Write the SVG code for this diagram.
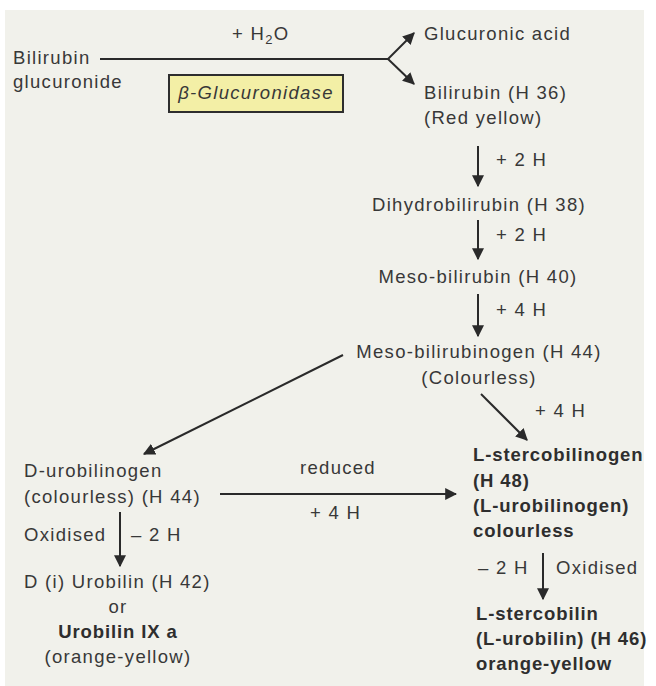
<svg xmlns="http://www.w3.org/2000/svg" width="656" height="686" viewBox="0 0 656 686">
<style>
text{font-family:"Liberation Sans",Arial,sans-serif;font-size:18.5px;fill:#383838;letter-spacing:1.3px}
.b{font-weight:bold;fill:#2e2e2e;letter-spacing:0.9px}
.m{text-anchor:middle}
.c line,.c path{stroke:#2a2a2a;stroke-width:2;fill:none}
</style>
<defs>
<marker id="ah" viewBox="0 0 10 10" refX="9" refY="5" markerWidth="6" markerHeight="6" markerUnits="strokeWidth" orient="auto">
<path d="M0,0 L10,5 L0,10 z" fill="#2a2a2a"/>
</marker>
</defs>
<rect x="0" y="0" width="656" height="686" fill="#ffffff"/>
<rect x="5" y="10" width="639" height="676" fill="#f1f1eb"/>
<g class="c" id="connectors">
<path d="M100,59 L388,59"/>
<path d="M388,59 L414,33" marker-end="url(#ah)"/>
<path d="M388,59 L414,84" marker-end="url(#ah)"/>
<line x1="478" y1="146" x2="478" y2="186" marker-end="url(#ah)"/>
<line x1="478" y1="220" x2="478" y2="259" marker-end="url(#ah)"/>
<line x1="478" y1="294" x2="478" y2="336" marker-end="url(#ah)"/>
<line x1="343" y1="355" x2="144" y2="454" marker-end="url(#ah)"/>
<line x1="481" y1="394" x2="527" y2="440" marker-end="url(#ah)"/>
<line x1="220" y1="494" x2="456" y2="494" marker-end="url(#ah)"/>
<line x1="120" y1="512" x2="120" y2="566" marker-end="url(#ah)"/>
<line x1="543" y1="553" x2="543" y2="599" marker-end="url(#ah)"/>
</g>
<g id="labels">
<text x="232" y="40">+ H<tspan font-size="13" dy="4">2</tspan><tspan dy="-4">O</tspan></text>
<text x="496" y="166">+ 2 H</text>
<text x="496" y="241">+ 2 H</text>
<text x="496" y="316">+ 4 H</text>
<text x="535" y="417">+ 4 H</text>
<text x="300" y="474">reduced</text>
<text x="310" y="519">+ 4 H</text>
<text x="24" y="541">Oxidised</text>
<text x="131" y="541">– 2 H</text>
<text x="478" y="574">– 2 H</text>
<text x="556" y="574">Oxidised</text>
</g>
<g id="enzyme">
<rect x="169" y="75" width="174" height="37" fill="#f3efa6" stroke="#2e2e2e" stroke-width="2"/>
<text x="256" y="99" class="m" font-style="italic" letter-spacing="0.6">β-Glucuronidase</text>
</g>
<g id="bilirubin-glucuronide">
<text x="13" y="64">Bilirubin</text>
<text x="13" y="88">glucuronide</text>
</g>
<g id="glucuronic-acid"><text x="424" y="40">Glucuronic acid</text></g>
<g id="bilirubin">
<text x="424" y="99">Bilirubin (H 36)</text>
<text x="424" y="124">(Red yellow)</text>
</g>
<g id="dihydrobilirubin"><text x="479" y="211" class="m">Dihydrobilirubin (H 38)</text></g>
<g id="meso-bilirubin"><text x="478" y="283" class="m">Meso-bilirubin (H 40)</text></g>
<g id="meso-bilirubinogen">
<text x="479" y="358" class="m">Meso-bilirubinogen (H 44)</text>
<text x="479" y="384" class="m">(Colourless)</text>
</g>
<g id="d-urobilinogen">
<text x="24" y="477">D-urobilinogen</text>
<text x="24" y="503">(colourless) (H 44)</text>
</g>
<g id="l-stercobilinogen">
<text x="473" y="461" class="b">L-stercobilinogen</text>
<text x="473" y="487" class="b">(H 48)</text>
<text x="473" y="512" class="b">(L-urobilinogen)</text>
<text x="473" y="537" class="b">colourless</text>
</g>
<g id="d-urobilin">
<text x="24" y="588">D (i) Urobilin (H 42)</text>
<text x="118" y="613" class="m">or</text>
<text x="118" y="638" class="m b">Urobilin IX a</text>
<text x="118" y="663" class="m">(orange-yellow)</text>
</g>
<g id="l-stercobilin">
<text x="476" y="620" class="b">L-stercobilin</text>
<text x="476" y="645" class="b">(L-urobilin) (H 46)</text>
<text x="476" y="670" class="b">orange-yellow</text>
</g>
</svg>
